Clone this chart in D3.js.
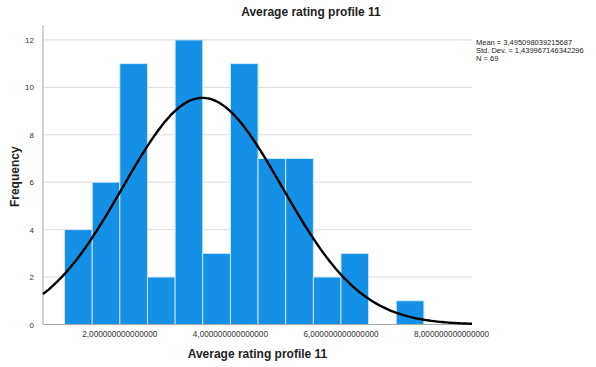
<!DOCTYPE html>
<html><head><meta charset="utf-8">
<script src="https://cdn.jsdelivr.net/npm/d3@7"></script>
<style>body{margin:0;background:#fff}svg{display:block}text{font-family:"Liberation Sans",Arial,sans-serif}</style>
</head><body>
<svg id="c" width="596" height="367"></svg>
<script>
const binStarts = [1,1.5,2,2.5,3,3.5,4,4.5,5,5.5,6,6.5,7];
const counts = [4,6,11,2,12,3,11,7,7,2,3,0,1];
const binWidth = 0.5;
const xTicks = [2,4,6,8];
const yTicks = [0,2,4,6,8,10,12];
const mean = 3.495098039215687, sd = 1.439967146342296, n = 69;
const statsLines = ["Mean = 3,495098039215687","Std. Dev. = 1,439967146342296","N = 69"];
const title = "Average rating profile 11";
const xTitle = "Average rating profile 11";
const yTitle = "Frequency";

const svg = d3.select("#c");
const L=43,R=472,T=25,B=324.5;
const x = d3.scaleLinear().domain([0.61,8.37]).range([L,R]);
const y = d3.scaleLinear().domain([0,12.63]).range([B,T]);

// gridlines
svg.append("g").selectAll("line").data(yTicks.filter(d=>d>0)).join("line")
 .attr("x1",L).attr("x2",R).attr("y1",d=>y(d)).attr("y2",d=>y(d))
 .attr("stroke","#dcdcdc").attr("stroke-width",1);

// bars
svg.append("g").selectAll("rect").data(binStarts.map((s,i)=>({s,c:counts[i]})).filter(d=>d.c>0)).join("rect")
 .attr("x",d=>x(d.s)).attr("width",d=>x(d.s+binWidth)-x(d.s))
 .attr("y",d=>y(d.c)).attr("height",d=>y(0)-y(d.c))
 .attr("fill","#1490e6").attr("stroke","#d6eafb").attr("stroke-width",0.9);

// axes lines
svg.append("line").attr("x1",L).attr("x2",L).attr("y1",T).attr("y2",B).attr("stroke","#a8a8a8").attr("stroke-width",1);
svg.append("line").attr("x1",L).attr("x2",R).attr("y1",B).attr("y2",B).attr("stroke","#a8a8a8").attr("stroke-width",1);

// y tick labels
svg.append("g").selectAll("text").data(yTicks).join("text")
 .attr("x",34).attr("y",d=>y(d)+3).attr("text-anchor","end")
 .attr("font-size",8).attr("fill","#333").text(d=>d);

// x tick labels
svg.append("g").selectAll("text").data(xTicks).join("text")
 .attr("x",d=>x(d)).attr("y",337).attr("text-anchor","middle")
 .attr("font-size",8.2).attr("fill","#333").text(d=>d.toFixed(15).replace(".",","));

// normal curve
const pts = d3.range(0,201).map(i=>{const v=0.61+(8.37-0.61)*i/200;return [v, n*binWidth*Math.exp(-0.5*((v-mean)/sd)**2)/(sd*Math.sqrt(2*Math.PI))];});
svg.append("path").datum(pts)
 .attr("d",d3.line().x(d=>x(d[0])).y(d=>y(d[1])).curve(d3.curveBasis))
 .attr("fill","none").attr("stroke","#000").attr("stroke-width",2.4);

// titles
svg.append("text").attr("x",311).attr("y",16).attr("text-anchor","middle")
 .attr("font-size",12).attr("font-weight","bold").attr("fill","#222").text(title);
svg.append("text").attr("x",(L+R)/2).attr("y",358).attr("text-anchor","middle")
 .attr("font-size",12).attr("font-weight","bold").attr("fill","#222").text(xTitle);
svg.append("text").attr("transform",`translate(19,${(T+B)/2+2}) rotate(-90)`).attr("text-anchor","middle")
 .attr("font-size",12).attr("font-weight","bold").attr("fill","#222").text(yTitle);

// stats
svg.append("g").selectAll("text").data(statsLines).join("text")
 .attr("x",476).attr("y",(d,i)=>45+i*8.2).attr("font-size",7.5).attr("fill","#222").text(d=>d);
</script>
</body></html>
